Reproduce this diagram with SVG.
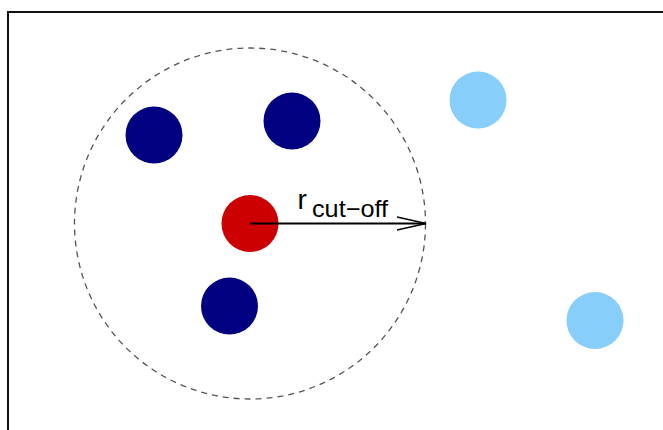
<svg xmlns="http://www.w3.org/2000/svg" width="663" height="430" viewBox="0 0 663 430">
<style>
.dark{fill:#000080}
.light{fill:#87CEFA}
.lbl{font-family:"Liberation Sans",Arial,sans-serif;fill:#000}
</style>
<rect width="663" height="430" fill="#fff"/>
<rect x="8" y="12" width="700" height="500" fill="none" stroke="#111" stroke-width="2"/>
<circle cx="250" cy="223.5" r="175.5" fill="none" stroke="#555" stroke-width="1.3" stroke-dasharray="6,5"/>
<g id="center"><circle cx="250" cy="223.5" r="28.5" fill="#CC0000"/></g>
<g id="n1"><circle class="dark" cx="154" cy="135" r="28.5"/></g>
<g id="n2"><circle class="dark" cx="292" cy="121" r="28.5"/></g>
<g id="n3"><circle class="dark" cx="229.5" cy="306" r="28.5"/></g>
<g id="n4"><circle class="light" cx="478" cy="100" r="28.5"/></g>
<g id="n5"><circle class="light" cx="595" cy="320.5" r="28.5"/></g>
<g id="connectors">
<line x1="250" y1="223.5" x2="426" y2="223.5" stroke="#000" stroke-width="1.8"/>
<polyline points="397,217 426,223.5 397,230" fill="none" stroke="#000" stroke-width="1.3"/>
</g>
<text class="lbl" x="297.5" y="209" font-size="28">r</text>
<text class="lbl" x="312" y="217" font-size="24" textLength="76" lengthAdjust="spacingAndGlyphs">cut−off</text>
</svg>
